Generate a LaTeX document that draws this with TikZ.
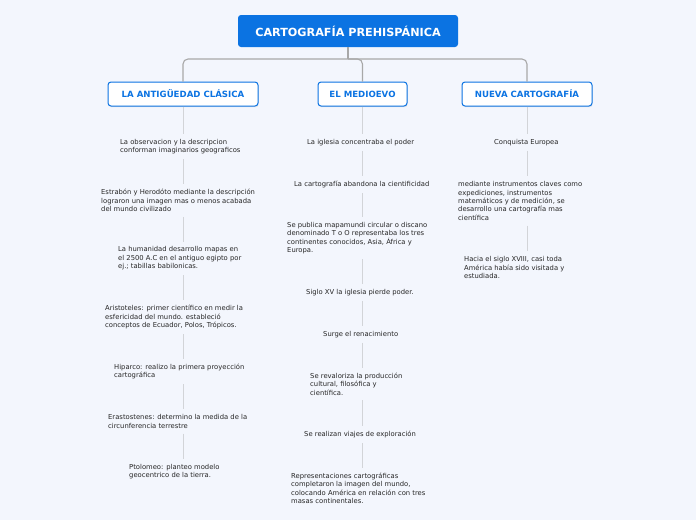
\documentclass[tikz,border=0pt]{standalone}
\usepackage{fontspec}
\setmainfont{DejaVu Sans}
\usepackage{xcolor}
\usetikzlibrary{positioning,shadows}
\definecolor{pagebg}{HTML}{F3F6FD}
\definecolor{mapblue}{HTML}{0B73E2}
\definecolor{trunkgray}{HTML}{A8A8A8}
\definecolor{twiggray}{HTML}{D2D4D8}
\definecolor{inkgray}{HTML}{262626}
\tikzset{
  rootbox/.style={
    rectangle,
    rounded corners=3pt,
    fill=mapblue,
    text=white,
    align=center,
    minimum height=32pt,
    minimum width=220pt,
    font=\bfseries\fontsize{11.2}{13}\selectfont
  },
  branchbox/.style={
    rectangle,
    rounded corners=3pt,
    draw=mapblue,
    fill=white,
    line width=1pt,
    text=mapblue,
    align=center,
    minimum height=24pt,
    drop shadow={opacity=0.18, shadow xshift=0.6pt, shadow yshift=-1.2pt},
    font=\bfseries\fontsize{8.6}{10}\selectfont
  },
  idea/.style={
    anchor=west,
    align=left,
    text=inkgray,
    inner xsep=0pt,
    inner ysep=5pt,
    yshift=-1.5pt,
    font=\fontsize{6.8}{8.4}\selectfont
  },
  trunk/.style={draw=trunkgray, line width=1.1pt, rounded corners=5pt},
  twig/.style={draw=twiggray, line width=0.9pt}
}
\begin{document}
\begin{tikzpicture}[x=1pt, y=-1pt]
  \useasboundingbox[fill=pagebg] (0,0) rectangle (696,520);

  \node[rootbox] (titulo) at (348,31) {CARTOGRAFÍA PREHISPÁNICA};
  \node[branchbox, minimum width=150pt] (antigua) at (183,94) {LA ANTIGÜEDAD CLÁSICA};
  \node[branchbox, minimum width=89pt] (medio) at (362.5,94) {EL MEDIOEVO};
  \node[branchbox, minimum width=130pt] (nueva) at (527,94) {NUEVA CARTOGRAFÍA};

  % antiguedad clasica
  \node[idea] (a1) at (120,145) {La observacion y la descripcion\\conforman imaginarios geograficos};
  \node[idea] (a2) at (101,199) {Estrabón y Herodóto mediante la descripción\\lograron una imagen mas o menos acabada\\del mundo civilizado};
  \node[idea] (a3) at (118,257) {La humanidad desarrollo mapas en\\el 2500 A.C en el antiguo egipto por\\ej.; tabillas babilonicas.};
  \node[idea] (a4) at (105,315.5) {Aristoteles: primer científico en medir la\\esfericidad del mundo. estableció\\conceptos de Ecuador, Polos, Trópicos.};
  \node[idea] (a5) at (114,370) {Hiparco: realizo la primera proyección\\cartográfica};
  \node[idea] (a6) at (108,420) {Erastostenes: determino la medida de la\\circunferencia terrestre};
  \node[idea] (a7) at (129,470) {Ptolomeo: planteo modelo\\geocentrico de la tierra.};

  % medioevo
  \node[idea] (m1) at (307,141) {La iglesia concentraba el poder};
  \node[idea] (m2) at (294,183) {La cartografía abandona la cientificidad};
  \node[idea] (m3) at (287,236.5) {Se publica mapamundi circular o discano\\denominado T o O representaba los tres\\continentes conocidos, Asia, África y\\Europa.};
  \node[idea] (m4) at (306,291) {Siglo XV la iglesia pierde poder.};
  \node[idea] (m5) at (323,333) {Surge el renacimiento};
  \node[idea] (m6) at (310,382.5) {Se revaloriza la producción\\cultural, filosófica y\\científica.};
  \node[idea] (m7) at (304,433) {Se realizan viajes de exploración};
  \node[idea] (m8) at (291,487) {Representaciones cartográficas\\completaron la imagen del mundo,\\colocando América en relación con tres\\masas continentales.};

  % nueva cartografia
  \node[idea] (n1) at (494,141) {Conquista Europea};
  \node[idea] (n2) at (458,199.5) {mediante instrumentos claves como\\expediciones, instrumentos\\matemáticos y de medición, se\\desarrollo una cartografía mas\\científica};
  \node[idea] (n3) at (464,266) {Hacia el siglo XVIII, casi toda\\América había sido visitada y\\estudiada.};

  \coordinate (bus) at (348,59);
  \draw[trunk] (titulo.south) -- (bus);
  \draw[trunk] (antigua.north) |- (bus) -| (nueva.north);
  \draw[trunk] (bus) -| (medio.north);

  \draw[twig] (antigua.south) -- (a1.north -| antigua);
  \draw[twig] (a1.south -| antigua) -- (a2.north -| antigua);
  \draw[twig] (a2.south -| antigua) -- (a3.north -| antigua);
  \draw[twig] (a3.south -| antigua) -- (a4.north -| antigua);
  \draw[twig] (a4.south -| antigua) -- (a5.north -| antigua);
  \draw[twig] (a5.south -| antigua) -- (a6.north -| antigua);
  \draw[twig] (a6.south -| antigua) -- (a7.north -| antigua);

  \draw[twig] (medio.south) -- (m1.north -| medio);
  \draw[twig] (m1.south -| medio) -- (m2.north -| medio);
  \draw[twig] (m2.south -| medio) -- (m3.north -| medio);
  \draw[twig] (m3.south -| medio) -- (m4.north -| medio);
  \draw[twig] (m4.south -| medio) -- (m5.north -| medio);
  \draw[twig] (m5.south -| medio) -- (m6.north -| medio);
  \draw[twig] (m6.south -| medio) -- (m7.north -| medio);
  \draw[twig] (m7.south -| medio) -- (m8.north -| medio);

  \draw[twig] (nueva.south) -- (n1.north -| nueva);
  \draw[twig] (n1.south -| nueva) -- (n2.north -| nueva);
  \draw[twig] (n2.south -| nueva) -- (n3.north -| nueva);
\end{tikzpicture}
\end{document}
